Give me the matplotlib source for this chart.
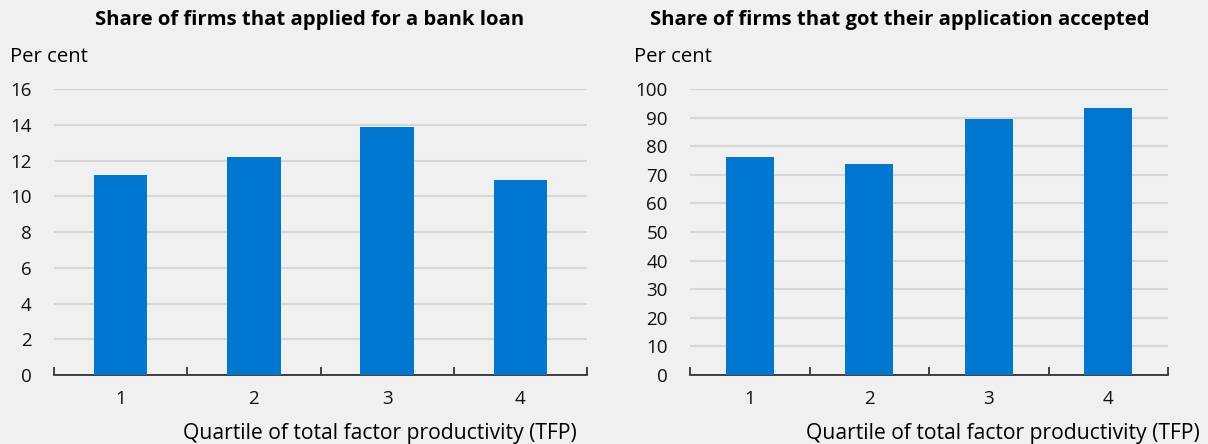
import numpy as np
import matplotlib
matplotlib.use("Agg")
import matplotlib.pyplot as plt

plt.rcParams['font.family'] = ['Open Sans', 'DejaVu Sans']

quartiles = ['1', '2', '3', '4']
applied = [11.2, 12.2, 13.9, 10.9]
accepted = [76.2, 73.9, 89.5, 93.4]

bg = '#f0f0f0'
blue = '#0078d2'

fig = plt.figure(figsize=(12.08, 4.44), dpi=100, facecolor=bg)
ax1 = fig.add_axes([54/1208, 1-375/444, (587-54)/1208, (375-89)/444])
ax2 = fig.add_axes([690/1208, 1-375/444, (1168-690)/1208, (375-89)/444])

def style(ax, vals, ymax, step):
    x = np.arange(len(vals))
    ax.set_facecolor(bg)
    ax.bar(x, vals, width=0.4, color=blue, zorder=3)
    ax.set_xlim(-0.5, len(vals) - 0.5)
    ax.set_ylim(0, ymax)
    ax.set_yticks(np.arange(0, ymax + 1, step))
    ax.yaxis.grid(True, color='#d6d6d6', linewidth=1.5, zorder=0)
    for s in ['left', 'right', 'top']:
        ax.spines[s].set_visible(False)
    ax.spines['bottom'].set_color('#222222')
    ax.spines['bottom'].set_linewidth(1.2)
    ax.tick_params(axis='y', length=0, labelsize=13.5, pad=16, labelcolor='#111111')
    ax.set_xticks(x)
    ax.set_xticklabels(quartiles)
    ax.tick_params(axis='x', which='major', length=0, labelsize=13.5, pad=11, labelcolor='#111111')
    ax.set_xticks(np.arange(-0.5, len(vals), 1), minor=True)
    ax.tick_params(axis='x', which='minor', direction='in', length=6, width=1.2, color='#222222')

style(ax1, applied, 16, 2)
style(ax2, accepted, 100, 10)

fig.text(310/1208, 1-20/444, 'Share of firms that applied for a bank loan',
         ha='center', va='center', fontsize=14.6, fontweight='bold')
fig.text(900/1208, 1-20/444, 'Share of firms that got their application accepted',
         ha='center', va='center', fontsize=14.6, fontweight='bold')
fig.text(10/1208, 1-57/444, 'Per cent', ha='left', va='center', fontsize=14.6)
fig.text(634/1208, 1-57/444, 'Per cent', ha='left', va='center', fontsize=14.6)
fig.text(577/1208, 1-433/444, 'Quartile of total factor productivity (TFP)',
         ha='right', va='center', fontsize=15.2)
fig.text(1200/1208, 1-433/444, 'Quartile of total factor productivity (TFP)',
         ha='right', va='center', fontsize=15.2)

plt.savefig('out.png', dpi=100, facecolor=bg)
